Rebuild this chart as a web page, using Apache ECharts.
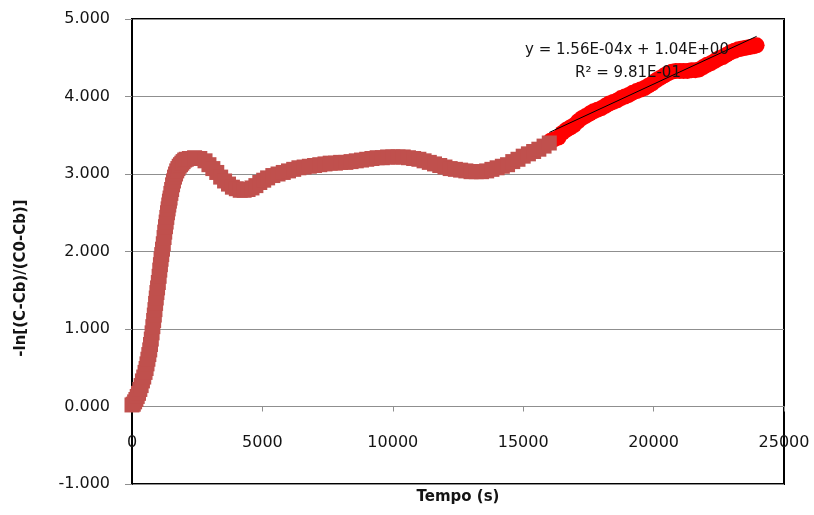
<!DOCTYPE html>
<html>
<head>
<meta charset="utf-8">
<script src="https://cdn.jsdelivr.net/npm/echarts@6/dist/echarts.min.js"></script>
<style>
  html, body { margin: 0; padding: 0; background: #fff; }
  #chart { width: 814px; height: 515px; }
</style>
</head>
<body>
<div id="chart"></div>
<script>
// Elapsed time (s) and -ln[(C-Cb)/(C0-Cb)] for the full run (first part)
const timeA = [0,50,100,150,200,250,300,350,400,450,500,540,575,610,645,680,710,740,770,800,830,855,880,905,930,955,980,1010,1040,1065,1090,1115,1140,1170,1200,1230,1255,1285,1310,1335,1360,1385,1410,1435,1460,1490,1520,1555,1590,1630,1670,1715,1760,1810,1860,1910,1960,2020,2080,
  2200,2400,2600,2800,2950,3100,3250,3400,3550,3700,3850,4000,4150,4300,4450,4600,4750,4900,5050,5200,5400,5600,5800,6000,6200,6400,6600,6800,7000,7200,7400,7600,7800,8000,8200,8400,8600,8800,9000,9200,9400,9600,9800,10000,10200,10400,10600,10800,11000,11200,11400,11600,11800,12000,12200,12400,12600,12800,13000,13200,13400,13600,13800,14000,14200,14400,14600,14800,15000,15200,15400,15600,15800,16000];
const valA = [0.02,0.03,0.06,0.09,0.13,0.17,0.22,0.27,0.33,0.38,0.44,0.49,0.55,0.61,0.67,0.73,0.80,0.87,0.95,1.03,1.11,1.18,1.25,1.33,1.40,1.47,1.53,1.60,1.68,1.76,1.83,1.90,1.96,2.03,2.10,2.18,2.25,2.32,2.38,2.44,2.50,2.55,2.60,2.65,2.69,2.75,2.80,2.86,2.91,2.96,3.00,3.04,3.07,3.10,3.12,3.14,3.16,3.18,3.19,
  3.20,3.21,3.20,3.17,3.12,3.07,3.02,2.96,2.91,2.87,2.83,2.81,2.79,2.79,2.80,2.82,2.85,2.89,2.92,2.95,2.98,3.00,3.02,3.04,3.06,3.08,3.09,3.10,3.11,3.12,3.13,3.14,3.14,3.15,3.15,3.16,3.17,3.18,3.19,3.20,3.21,3.21,3.22,3.22,3.22,3.22,3.21,3.20,3.19,3.17,3.15,3.13,3.11,3.09,3.07,3.06,3.05,3.04,3.03,3.03,3.03,3.04,3.06,3.08,3.10,3.12,3.16,3.19,3.23,3.26,3.29,3.32,3.36,3.40];

// Final stretch used for the linear fit
const timeB = [16050,16200,16350,16500,16650,16800,16950,17100,17250,17400,17550,17700,17850,18000,18150,18300,18450,18600,18750,18900,19050,19200,19350,19500,19650,19800,19950,20100,20250,20400,20550,20700,20850,21000,21150,21300,21450,21600,21750,21900,22050,22200,22350,22500,22650,22800,22950,23100,23250,23400,23550,23700,23850,23950];
const valB = [3.43,3.45,3.47,3.53,3.57,3.60,3.63,3.68,3.72,3.75,3.78,3.81,3.83,3.85,3.88,3.91,3.93,3.95,3.98,4.00,4.02,4.05,4.07,4.09,4.11,4.14,4.17,4.21,4.24,4.27,4.30,4.32,4.33,4.33,4.33,4.33,4.34,4.34,4.35,4.38,4.41,4.43,4.46,4.49,4.51,4.54,4.57,4.59,4.61,4.62,4.63,4.64,4.65,4.66];

// Linear trend of the final stretch
const fitSlope = 1.56e-4;
const fitIntercept = 1.04;
const fitR2 = 0.981;
const fitRange = [16000, 23950];

// Axis ranges
const xRange = [0, 25000, 5000];
const yRange = [-1, 5, 1];

const xTitle = 'Tempo (s)';
const yTitle = '-ln[(C-Cb)/(C0-Cb)]';

function zip(xs, ys) { return xs.map((x, i) => [x, ys[i]]); }
function excelExp(v) {
  const [m, e] = v.toExponential(2).split('e');
  const n = parseInt(e, 10);
  return m + 'E' + (n < 0 ? '-' : '+') + String(Math.abs(n)).padStart(2, '0');
}

const FONT = 'DejaVu Sans';
const TEXT = '#141414';
const GRID = '#8f8f8f';

// Plot box in pixels
const box = { left: 132, top: 19, right: 30, bottom: 31 };
const plotH = 515 - box.top - box.bottom;
// Horizontal axis sits on y = 0, so shift it up from the bottom edge
const zeroShift = plotH * (0 - yRange[0]) / (yRange[1] - yRange[0]);

const chart = echarts.init(document.getElementById('chart'), null, { renderer: 'canvas' });

const trendData = fitRange.map(x => [x, fitIntercept + fitSlope * x]);

chart.setOption({
  animation: false,
  backgroundColor: '#ffffff',
  grid: {
    left: box.left, top: box.top, right: box.right, bottom: box.bottom,
    outerBoundsMode: 'none', containLabel: false,
    show: true, borderColor: '#000', borderWidth: 2, backgroundColor: 'transparent'
  },
  xAxis: {
    type: 'value', min: xRange[0], max: xRange[1], interval: xRange[2],
    position: 'bottom', offset: -zeroShift,
    axisLine: { show: true, onZero: false, lineStyle: { color: GRID, width: 1 } },
    axisTick: { show: true, inside: false, length: 5, lineStyle: { color: GRID } },
    axisLabel: { margin: 28, color: TEXT, fontFamily: FONT, fontSize: 16,
      formatter: v => String(v) },
    splitLine: { show: false },
    name: xTitle, nameLocation: 'middle', nameGap: 83,
    nameTextStyle: { fontFamily: FONT, fontWeight: 'bold', fontSize: 15, color: TEXT }
  },
  yAxis: {
    type: 'value', min: yRange[0], max: yRange[1], interval: yRange[2],
    axisLine: { show: true, onZero: false, lineStyle: { color: '#000', width: 2 } },
    axisTick: { show: true, inside: false, length: 7, lineStyle: { color: GRID } },
    axisLabel: { margin: 22, color: TEXT, fontFamily: FONT, fontSize: 16,
      formatter: v => v.toFixed(3) },
    splitLine: { show: true, lineStyle: { color: GRID, width: 1 } }
  },
  series: [
    {
      type: 'scatter', data: zip(timeB, valB),
      symbol: 'circle', symbolSize: 16,
      itemStyle: { color: '#ff0000', opacity: 1 }, z: 2
    },
    {
      type: 'scatter', data: zip(timeA, valA),
      symbol: 'rect', symbolSize: 15,
      itemStyle: { color: '#c0504d', opacity: 1 }, z: 3
    },
    {
      type: 'line', data: trendData, symbol: 'none',
      lineStyle: { color: '#000', width: 1 }, z: 5
    }
  ],
  graphic: [
    {
      type: 'text', x: 21, y: 278, rotation: Math.PI / 2, z: 10,
      style: { text: yTitle, fontFamily: FONT, fontWeight: 'bold', fontSize: 15,
        fill: TEXT, textAlign: 'center', textVerticalAlign: 'middle' }
    },
    {
      type: 'text', x: 627, y: 50, z: 10,
      style: { text: 'y = ' + excelExp(fitSlope) + 'x + ' + excelExp(fitIntercept),
        fontFamily: FONT, fontSize: 15, fill: TEXT, textAlign: 'center', textVerticalAlign: 'middle' }
    },
    {
      type: 'text', x: 628, y: 73, z: 10,
      style: { text: 'R\u00b2 = ' + excelExp(fitR2),
        fontFamily: FONT, fontSize: 15, fill: TEXT, textAlign: 'center', textVerticalAlign: 'middle' }
    }
  ]
});
</script>
</body>
</html>
